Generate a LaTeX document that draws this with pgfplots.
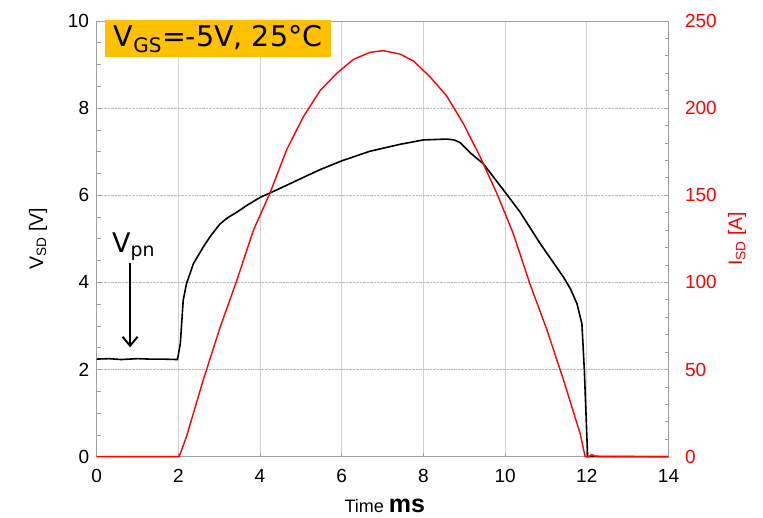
\documentclass[border=0pt]{standalone}
\usepackage{pgfplots}
\pgfplotsset{compat=1.18}
\usepackage{fontspec}
\setmainfont{Liberation Sans}
\newfontfamily\dejavu{DejaVu Sans}
\usetikzlibrary{arrows.meta}
\definecolor{boxgold}{HTML}{FFC000}
\definecolor{axgray}{HTML}{A0A0A0}

\begin{document}
\begin{tikzpicture}
\path[use as bounding box] (-96.6pt,-61.3pt) rectangle (666.4pt,456.7pt);
\pgfplotsset{
  common/.style={
    scale only axis, width=571.9pt, height=435.7pt,
    at={(0,0)}, anchor=south west,
    xmin=0, xmax=14, clip=false,
    /pgf/number format/assume math mode=true,
    tick label style={font=\fontsize{19}{19}\selectfont},
    label style={font=\fontsize{19.5}{19.5}\selectfont},
    axis line style={axgray, line width=0.8pt},
    tick style={axgray, line width=0.8pt},
    major tick length=4pt, minor tick length=4pt,
  }
}
% left axis: V_SD
\begin{axis}[common,
    ymin=0, ymax=10,
    xtick={0,2,...,14}, ytick={0,2,...,10},
    minor y tick num=3,
    xtick pos=bottom, ytick pos=left,
    xticklabel style={yshift=-9pt},
    yticklabel style={xshift=-4pt},
    xmajorgrids, ymajorgrids,
    x grid style={gray!35, line width=0.8pt},
    y grid style={gray!55, densely dotted, line width=0.8pt},
    ylabel={V\textsubscript{SD} [V]},
    ylabel style={at={(axis description cs:-0.1025,0.5)}, anchor=center},
    xlabel={\fontsize{18}{18}\selectfont Time {\fontsize{25}{25}\selectfont\bfseries ms}},
    xlabel style={at={(axis description cs:0.504,-0.1125)}, anchor=center},
  ]
  \addplot[black, line width=1.6pt] coordinates {
    (0,2.24) (0.3,2.25) (0.6,2.23) (1,2.25) (1.3,2.24) (1.6,2.24) (1.98,2.23)
    (2.05,2.6) (2.12,3.59) (2.2,3.97) (2.37,4.43) (2.61,4.81) (2.8,5.08)
    (3.02,5.34) (3.2,5.48) (3.43,5.61) (3.7,5.78) (4.0,5.95) (4.33,6.09)
    (4.7,6.25) (5.06,6.41) (5.5,6.6) (6.0,6.79) (6.69,7.01) (7.43,7.17)
    (8.0,7.27) (8.57,7.29) (8.75,7.27) (8.9,7.21) (9.14,6.98) (9.47,6.72)
    (10.0,6.07) (10.37,5.61) (10.86,4.89) (11.43,4.12) (11.6,3.85)
    (11.76,3.51) (11.88,3.05) (11.94,1.98) (12.02,0) (14,0)
  };
  \node[fill=boxgold, anchor=north west, inner xsep=9pt, minimum height=37pt,
        font=\dejavu\fontsize{28.5}{28.5}\selectfont]
    at (axis cs:0.2,10.02) {V\textsubscript{GS}=-5V, 25°C};
  \node[anchor=base west, inner sep=0pt, font=\dejavu\fontsize{27}{27}\selectfont]
    at (axis cs:0.377,4.69) {V\textsubscript{pn}};
  \draw[line width=2pt, -{Straight Barb[length=9pt,width=15pt,line width=2pt]}]
    (axis cs:0.82,4.44) -- (axis cs:0.82,2.51);
\end{axis}
% right axis: I_SD
\begin{axis}[common,
    ymin=0, ymax=250,
    ytick={0,50,...,250}, minor y tick num=4,
    axis y line*=right, axis x line=none,
    yticklabel style={red, xshift=13pt},
    ylabel={I\textsubscript{SD} [A]},
    ylabel style={red, at={(axis description cs:1.12,0.5)}, anchor=center},
  ]
  \addplot[red, line width=1.4pt] coordinates {
    (0,0) (2.02,0) (2.2,11.5) (2.61,44) (3.02,74) (3.43,101) (3.84,130)
    (4.24,151) (4.65,176) (5.06,195) (5.47,210) (5.88,220) (6.29,228)
    (6.69,232) (7.02,233) (7.43,231) (7.76,227) (8.16,218) (8.57,207)
    (8.98,191) (9.39,172) (9.8,151) (10.2,128) (10.61,99) (11.02,73)
    (11.43,44) (11.84,13) (11.96,0) (12.05,0) (12.12,1.2) (12.2,0.3) (14,0)
  };
\end{axis}
\end{tikzpicture}
\end{document}
